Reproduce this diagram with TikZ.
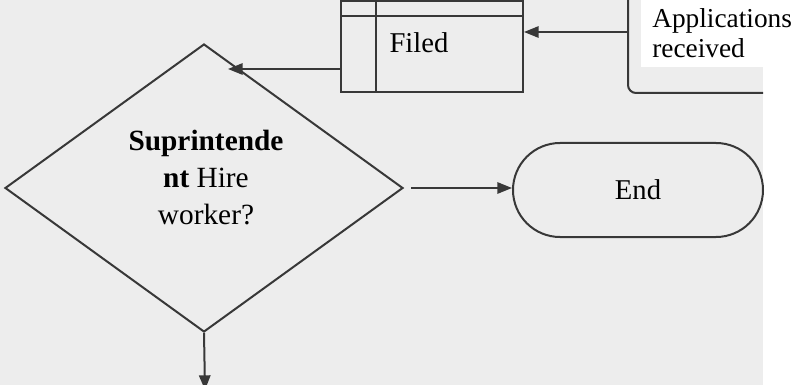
\documentclass[tikz,border=0pt]{standalone}
\usepackage{fontspec}
\setmainfont{Liberation Serif}
\usetikzlibrary{shapes.geometric,arrows.meta,calc}

\tikzset{
  flowline/.style={draw=black!78, line width=1.5pt},
  flowarrow/.style={flowline, -{Triangle[length=11pt,width=8.5pt]}},
}

\begin{document}
\begin{tikzpicture}[x=0.75pt,y=0.75pt,yscale=-1,xscale=1]
\useasboundingbox (0,0) rectangle (804,385);
\clip (0,0) rectangle (804,385);

%Background [scan]
\fill [black!7] (0,0) rectangle (763,385);

%Shape: Rectangle [filed]
\node (filed) [flowline, rectangle, minimum width=136.5pt, minimum height=68.25pt] at (432,46.5) {};
\draw [flowline] ($(filed.north west)+(0,16)$) -- ($(filed.north east)+(0,16)$) ;
\draw [flowline] ($(filed.north west)+(36,0)$) -- ($(filed.south west)+(36,0)$) ;
% Text Node
\node (filedtxt) [anchor=base, font=\fontsize{21.5}{26}\selectfont] at (419,53) {Filed};

%Shape: Rounded Rectangle [received, cut off]
\draw [flowline, rounded corners=6pt] (628,-30) -- (628,93) -- (763,93) ;
\fill [white] (641,0) rectangle (804,67);
% Text Node
\node (recv) [anchor=base west, align=left, inner sep=0pt, font=\fontsize{20.5}{22.5}\selectfont] at (652,58) {Applications\\received};

%Shape: Diamond [hire]
\node (hire) [flowline, diamond, aspect=1.38, inner sep=0pt, minimum width=298.5pt, minimum height=216pt] at (204,188) {};
% Text Node
\node (hiretxt) [align=center, font=\fontsize{22}{27.75}\selectfont] at (206,178) {\textbf{Suprintende}\\\textbf{nt} Hire\\worker?};

%Shape: Terminal [end]
\node (end) [flowline, rectangle, rounded corners=35.25pt, minimum width=187.5pt, minimum height=70.5pt, font=\fontsize{21.5}{26}\selectfont] at (638,190) {End};

%Connectors
\coordinate (appsin) at (628,32);
\draw [flowarrow] (appsin) -- (appsin -| filed.east) ;
\coordinate (filedout) at ($(filed.south west)+(0,-24)$);
\coordinate (hit) at ($(hire.north)!0.12!(hire.east)$);
\draw [flowarrow] (filedout) -- (filedout -| hit) ;
\draw [flowarrow] ([xshift=5.25pt]hire.east) -- (hire.east -| end.west) ;
\coordinate (down) at (205,390);
\draw [flowarrow] (hire.south) -- (down) ;

\end{tikzpicture}
\end{document}
